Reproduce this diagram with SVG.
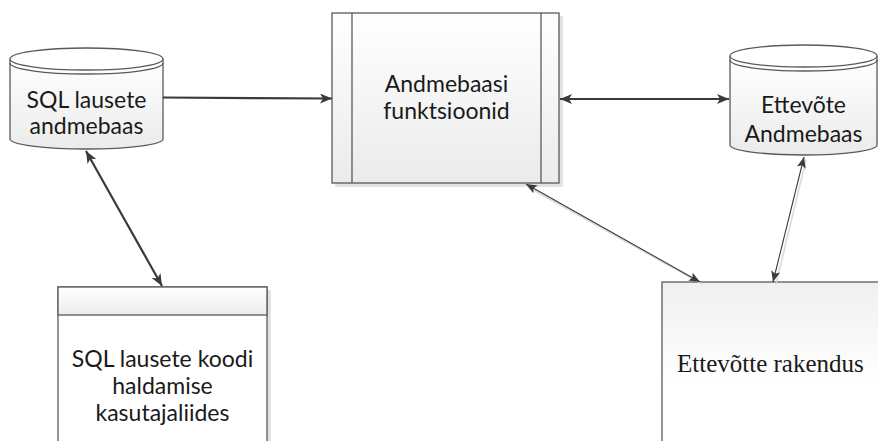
<svg xmlns="http://www.w3.org/2000/svg" width="878" height="441" viewBox="0 0 878 441">
  <defs>
    <linearGradient id="fillDown" x1="0" y1="0" x2="0" y2="1">
      <stop offset="0" stop-color="#ffffff"/>
      <stop offset="1" stop-color="#ebebeb"/>
    </linearGradient>
    <linearGradient id="fillUp" x1="0" y1="0" x2="0" y2="1">
      <stop offset="0" stop-color="#f0f0f0"/>
      <stop offset="0.6" stop-color="#ffffff"/>
      <stop offset="1" stop-color="#ffffff"/>
    </linearGradient>
    <marker id="headBold" viewBox="0 0 12 10" refX="12" refY="5" markerWidth="12" markerHeight="10" markerUnits="userSpaceOnUse" orient="auto-start-reverse">
      <path d="M0,0 L12,5 L0,10 L3,5 Z" fill="#3a3a3a"/>
    </marker>
    <marker id="headThin" viewBox="0 0 11 9" refX="11" refY="4.5" markerWidth="11" markerHeight="9" markerUnits="userSpaceOnUse" orient="auto-start-reverse">
      <path d="M0,0 L11,4.5 L0,9 L2.5,4.5 Z" fill="#3a3a3a"/>
    </marker>
  </defs>
  <style>
    .shape { stroke: #5a5a5a; stroke-width: 1.3; }
    .shadow { fill: #e2e2e2; }
    .label { font-family: Lato, "Open Sans", "Liberation Sans", sans-serif; font-size: 23px; fill: #1a1a1a; text-anchor: middle; }
    .serif { font-family: "Liberation Serif", "DejaVu Serif", serif; font-size: 25px; fill: #1a1a1a; }
    .bold { fill: none; stroke: #3a3a3a; stroke-width: 2.2; }
    .thin { fill: none; stroke: #3a3a3a; stroke-width: 1.1; }
    .thinShade { fill: none; stroke: #d8d8d8; stroke-width: 1.5; }
  </style>
  <rect width="878" height="441" fill="#ffffff"/>

  <!-- Database of SQL statements -->
  <g id="sql-db">
    <path d="M10,59 L10,139 A76.5,10 0 0 0 163,139 L163,59" fill="url(#fillDown)" class="shape"/>
    <ellipse cx="86.5" cy="59" rx="76.5" ry="11" fill="#ffffff" class="shape"/>
    <path d="M10,63 A76.5,11 0 0 0 163,63" fill="none" class="shape"/>
    <text class="label" x="86.5" y="108">SQL lausete</text>
    <text class="label" x="86.5" y="134">andmebaas</text>
  </g>

  <!-- Database functions (predefined process) -->
  <g id="db-functions">
    <rect class="shadow" x="335" y="16" width="228" height="171"/>
    <rect x="332" y="13" width="227" height="170" fill="url(#fillDown)" class="shape"/>
    <line x1="352" y1="13" x2="352" y2="183" class="shape"/>
    <line x1="541" y1="13" x2="541" y2="183" class="shape"/>
    <text class="label" x="446.5" y="92">Andmebaasi</text>
    <text class="label" x="446.5" y="119">funktsioonid</text>
  </g>

  <!-- Company database -->
  <g id="company-db">
    <path d="M730,56 L730,145 A73.5,10 0 0 0 877,145 L877,56" fill="url(#fillDown)" class="shape"/>
    <ellipse cx="803.5" cy="56" rx="73.5" ry="11" fill="#ffffff" class="shape"/>
    <path d="M730,60 A73.5,11 0 0 0 877,60" fill="none" class="shape"/>
    <text class="label" x="803.5" y="113">Ettevõte</text>
    <text class="label" x="803.5" y="142">Andmebaas</text>
  </g>

  <!-- SQL code management UI -->
  <g id="sql-ui">
    <rect class="shadow" x="61" y="290" width="210" height="160"/>
    <rect x="58" y="287" width="209" height="160" fill="#ffffff" class="shape"/>
    <rect x="58" y="287" width="209" height="28" fill="url(#fillDown)" class="shape"/>
    <text class="label" x="162.5" y="367">SQL lausete koodi</text>
    <text class="label" x="162.5" y="394">haldamise</text>
    <text class="label" x="162.5" y="421">kasutajaliides</text>
  </g>

  <!-- Company application -->
  <g id="company-app">
    <rect x="662" y="282" width="230" height="170" fill="url(#fillUp)" class="shape"/>
    <text class="serif" x="677" y="372">Ettevõtte rakendus</text>
  </g>

  <!-- Connectors -->
  <g id="connectors">
    <path class="bold" d="M163,97.5 C240,97.5 260,98.5 332,98.5" marker-end="url(#headBold)"/>
    <line class="bold" x1="560" y1="99" x2="729" y2="99" marker-start="url(#headBold)" marker-end="url(#headBold)"/>
    <line class="bold" x1="86" y1="151" x2="162" y2="286" marker-start="url(#headBold)" marker-end="url(#headBold)"/>
    <line class="thinShade" x1="528" y1="187" x2="702" y2="284"/>
    <line class="thin" x1="526" y1="184" x2="700" y2="282" marker-start="url(#headThin)" marker-end="url(#headThin)"/>
    <line class="thinShade" x1="806" y1="160" x2="776" y2="284"/>
    <line class="thin" x1="804" y1="157" x2="773" y2="282" marker-start="url(#headThin)" marker-end="url(#headThin)"/>
  </g>
</svg>
